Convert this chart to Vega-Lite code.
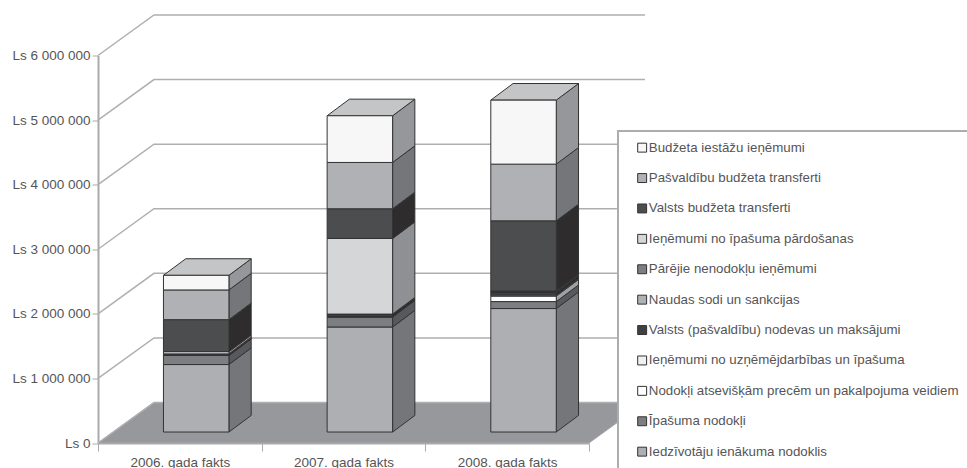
{
"$schema":"https://vega.github.io/schema/vega-lite/v6.json",
"width":491,"height":387.5,
"autosize":{"type":"none"},
"padding":{"left":98,"top":55.5,"right":378,"bottom":25},
"background":"white",
"config":{"view":{"stroke":null},"font":"Liberation Sans","legend":{"strokeWidth":2}},
"datasets":{
"bars":[
{"year":"2006. gada fakts","category":"Iedzīvotāju ienākuma nodoklis","order":1,"value":1045000},
{"year":"2006. gada fakts","category":"Īpašuma nodokļi","order":2,"value":140000},
{"year":"2006. gada fakts","category":"Nodokļi atsevišķām precēm un pakalpojuma veidiem","order":3,"value":2000},
{"year":"2006. gada fakts","category":"Ieņēmumi no uzņēmējdarbības un īpašuma","order":4,"value":3000},
{"year":"2006. gada fakts","category":"Valsts (pašvaldību) nodevas un maksājumi","order":5,"value":15000},
{"year":"2006. gada fakts","category":"Naudas sodi un sankcijas","order":6,"value":3000},
{"year":"2006. gada fakts","category":"Pārējie nenodokļu ieņēmumi","order":7,"value":2000},
{"year":"2006. gada fakts","category":"Ieņēmumi no īpašuma pārdošanas","order":8,"value":35000},
{"year":"2006. gada fakts","category":"Valsts budžeta transferti","order":9,"value":495000},
{"year":"2006. gada fakts","category":"Pašvaldību budžeta transferti","order":10,"value":460000},
{"year":"2006. gada fakts","category":"Budžeta iestāžu ieņēmumi","order":11,"value":226000},
{"year":"2007. gada fakts","category":"Iedzīvotāju ienākuma nodoklis","order":1,"value":1626000},
{"year":"2007. gada fakts","category":"Īpašuma nodokļi","order":2,"value":155000},
{"year":"2007. gada fakts","category":"Nodokļi atsevišķām precēm un pakalpojuma veidiem","order":3,"value":3000},
{"year":"2007. gada fakts","category":"Ieņēmumi no uzņēmējdarbības un īpašuma","order":4,"value":5000},
{"year":"2007. gada fakts","category":"Valsts (pašvaldību) nodevas un maksājumi","order":5,"value":31000},
{"year":"2007. gada fakts","category":"Naudas sodi un sankcijas","order":6,"value":3000},
{"year":"2007. gada fakts","category":"Pārējie nenodokļu ieņēmumi","order":7,"value":3000},
{"year":"2007. gada fakts","category":"Ieņēmumi no īpašuma pārdošanas","order":8,"value":1171000},
{"year":"2007. gada fakts","category":"Valsts budžeta transferti","order":9,"value":460000},
{"year":"2007. gada fakts","category":"Pašvaldību budžeta transferti","order":10,"value":717000},
{"year":"2007. gada fakts","category":"Budžeta iestāžu ieņēmumi","order":11,"value":723000},
{"year":"2008. gada fakts","category":"Iedzīvotāju ienākuma nodoklis","order":1,"value":1912000},
{"year":"2008. gada fakts","category":"Īpašuma nodokļi","order":2,"value":108000},
{"year":"2008. gada fakts","category":"Nodokļi atsevišķām precēm un pakalpojuma veidiem","order":3,"value":85000},
{"year":"2008. gada fakts","category":"Ieņēmumi no uzņēmējdarbības un īpašuma","order":4,"value":15000},
{"year":"2008. gada fakts","category":"Valsts (pašvaldību) nodevas un maksājumi","order":5,"value":39000},
{"year":"2008. gada fakts","category":"Naudas sodi un sankcijas","order":6,"value":8000},
{"year":"2008. gada fakts","category":"Pārējie nenodokļu ieņēmumi","order":7,"value":8000},
{"year":"2008. gada fakts","category":"Ieņēmumi no īpašuma pārdošanas","order":8,"value":11000},
{"year":"2008. gada fakts","category":"Valsts budžeta transferti","order":9,"value":1084000},
{"year":"2008. gada fakts","category":"Pašvaldību budžeta transferti","order":10,"value":878000},
{"year":"2008. gada fakts","category":"Budžeta iestāžu ieņēmumi","order":11,"value":991000}
]},
"layer":[
{"data":{"values":[{"depth":0},{"depth":1}]},
 "transform":[{"calculate":"datum.depth*627000","as":"fy"},{"calculate":"datum.depth*0.342","as":"fx"},{"calculate":"3+datum.depth*0.342","as":"fx2"}],
 "mark":{"type":"area","orient":"horizontal","fill":"#97989b","stroke":"#a8a9ab","strokeWidth":1},
 "encoding":{
  "y":{"field":"fy","type":"quantitative","scale":{"domain":[0,6000000],"nice":false,"zero":false},
   "axis":{"values":[0,1000000,2000000,3000000,4000000,5000000,6000000],"title":null,"grid":false,"domainColor":"#a9aaac","domainWidth":2,"tickColor":"#a9aaac","tickWidth":1,"tickSize":6,"labelColor":"#555555","labelFont":"Liberation Sans","labelFontSize":13.5,"labelPadding":2,"labelExpr":"'Ls ' + replace(format(datum.value, ','), /,/g, ' ')"}},
  "x":{"field":"fx","type":"quantitative","scale":{"domain":[0,3],"nice":false,"zero":false},
   "axis":{"values":[0,1,2,3],"title":null,"grid":false,"domainColor":"#a9aaac","domainWidth":2,"tickColor":"#a9aaac","tickWidth":1,"tickSize":8,"labelColor":"#555555","labelFont":"Liberation Sans","labelFontSize":13.5,"labelPadding":4,"labelOffset":81.8,"labelBound":false,"labelFlush":false,"labelOverlap":false,"labelAlign":"center","labelExpr":"['2006. gada fakts','2007. gada fakts','2008. gada fakts',''][datum.value]"}},
  "x2":{"field":"fx2"}
 }},
{"data":{"values":[{"tick":0},{"tick":1000000},{"tick":2000000},{"tick":3000000},{"tick":4000000},{"tick":5000000},{"tick":6000000}]},
 "transform":[{"calculate":"[0,0.342,3.342]","as":"gx"},{"flatten":["gx"]},{"calculate":"datum.tick+627000*min(datum.gx/0.342,1)","as":"gy"}],
 "mark":{"type":"line","stroke":"#aeafb1","strokeWidth":1.5},
 "encoding":{
  "x":{"field":"gx","type":"quantitative","axis":{"title":null}},
  "y":{"field":"gy","type":"quantitative","axis":{"title":null}},
  "detail":{"field":"tick"}
 }},
{"data":{"name":"bars"},
 "transform":[
  {"stack":"value","groupby":["year"],"sort":[{"field":"order","order":"ascending"}],"as":["s0","s1"]},
  {"calculate":"indexof(['2006. gada fakts','2007. gada fakts','2008. gada fakts'],datum.year)","as":"idx"},
  {"calculate":"[0,1]","as":"d"},{"flatten":["d"]},
  {"calculate":"datum.idx+0.8+0.136*datum.d","as":"sx"},
  {"calculate":"datum.s0+170000+257000*datum.d","as":"sy0"},
  {"calculate":"datum.s1+170000+257000*datum.d","as":"sy1"}],
 "mark":{"type":"area","stroke":"#333333","strokeWidth":1},
 "encoding":{
  "x":{"field":"sx","type":"quantitative","axis":{"title":null}},
  "y":{"field":"sy0","type":"quantitative","axis":{"title":null}},
  "y2":{"field":"sy1"},
  "detail":[{"field":"year"},{"field":"category"}],
  "fill":{"field":"category","type":"nominal","legend":null,"scale":{
   "domain":["Budžeta iestāžu ieņēmumi","Pašvaldību budžeta transferti","Valsts budžeta transferti","Ieņēmumi no īpašuma pārdošanas","Pārējie nenodokļu ieņēmumi","Naudas sodi un sankcijas","Valsts (pašvaldību) nodevas un maksājumi","Ieņēmumi no uzņēmējdarbības un īpašuma","Nodokļi atsevišķām precēm un pakalpojuma veidiem","Īpašuma nodokļi","Iedzīvotāju ienākuma nodoklis"],
   "range":["#96979a","#75767a","#2e2c2d","#8f9093","#555659","#75767a","#2a2a2b","#96979a","#a0a1a4","#58595c","#75767a"]}}
 }},
{"data":{"name":"bars"},
 "transform":[
  {"aggregate":[{"op":"sum","field":"value","as":"total"}],"groupby":["year"]},
  {"calculate":"indexof(['2006. gada fakts','2007. gada fakts','2008. gada fakts'],datum.year)","as":"idx"},
  {"calculate":"[0,1]","as":"d"},{"flatten":["d"]},
  {"calculate":"datum.total+170000+257000*datum.d","as":"ty"},
  {"calculate":"datum.idx+0.4+0.136*datum.d","as":"tx"},
  {"calculate":"datum.idx+0.8+0.136*datum.d","as":"tx2"}],
 "mark":{"type":"area","orient":"horizontal","fill":"#c4c5c7","stroke":"#333333","strokeWidth":1},
 "encoding":{
  "y":{"field":"ty","type":"quantitative","axis":{"title":null}},
  "x":{"field":"tx","type":"quantitative","axis":{"title":null}},
  "x2":{"field":"tx2"},
  "detail":{"field":"year"}
 }},
{"data":{"name":"bars"},
 "transform":[
  {"stack":"value","groupby":["year"],"sort":[{"field":"order","order":"ascending"}],"as":["s0","s1"]},
  {"calculate":"indexof(['2006. gada fakts','2007. gada fakts','2008. gada fakts'],datum.year)","as":"idx"},
  {"calculate":"datum.idx+0.4","as":"bx"},{"calculate":"datum.idx+0.8","as":"bx2"},
  {"calculate":"datum.s0+170000","as":"by0"},{"calculate":"datum.s1+170000","as":"by1"}],
 "mark":{"type":"rect","stroke":"#333333","strokeWidth":1},
 "encoding":{
  "x":{"field":"bx","type":"quantitative","axis":{"title":null}},
  "x2":{"field":"bx2"},
  "y":{"field":"by0","type":"quantitative","axis":{"title":null}},
  "y2":{"field":"by1"},
  "fill":{"field":"category","type":"nominal","scale":{
   "domain":["Budžeta iestāžu ieņēmumi","Pašvaldību budžeta transferti","Valsts budžeta transferti","Ieņēmumi no īpašuma pārdošanas","Pārējie nenodokļu ieņēmumi","Naudas sodi un sankcijas","Valsts (pašvaldību) nodevas un maksājumi","Ieņēmumi no uzņēmējdarbības un īpašuma","Nodokļi atsevišķām precēm un pakalpojuma veidiem","Īpašuma nodokļi","Iedzīvotāju ienākuma nodoklis"],
   "range":["#f7f7f7","#b0b1b4","#4c4d4f","#d5d6d8","#7d7e82","#b0b1b4","#3f4042","#f0f0f0","#ffffff","#7d7e82","#aeafb2"]},
   "legend":{"title":null,"orient":"none","legendX":520,"legendY":75.5,"padding":10,"symbolOffset":7.5,"symbolType":"square","symbolSize":80,"symbolStrokeColor":"#333333","symbolStrokeWidth":1,"labelFont":"Liberation Sans","labelFontSize":13.3,"labelColor":"#555555","labelLimit":400,"labelOffset":0,"rowPadding":15.4,"strokeColor":"#acadaf","fillColor":"#ffffff","columns":1}}
 }}
],
"resolve":{"scale":{"fill":"independent"}}
}
